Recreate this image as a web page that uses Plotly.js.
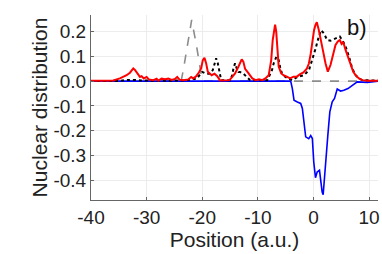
<!DOCTYPE html>
<html><head><meta charset="utf-8">
<script src="https://cdn.plot.ly/plotly-3.0.1.min.js"></script>
<style>html,body{margin:0;padding:0;background:#fff}#chart{width:382px;height:254px}</style>
</head><body><div id="chart"></div>
<script>
// Red series
const redX = [-40,-36,-34.8,-34.2,-33.6,-33,-32.4,-32.1,-31.8,-31.2,-30.9,-30.5,-30,-29.6,-28.8,-28.2,-27.9,-27.3,-26.7,-26.1,-25.5,-24.9,-24.5,-24.1,-23.4,-22.5,-22,-21.6,-21.1,-20.7,-20.2,-19.9,-19.6,-19.3,-19,-18.7,-18.3,-17.8,-17.3,-16.8,-15.9,-15.1,-14.6,-14.1,-13.5,-12.9,-12.6,-12.3,-11.9,-11.5,-11.0,-10.4,-9.8,-9.2,-8.65,-8.05,-7.6,-7.33,-6.9,-6.7,-6.5,-6.25,-5.8,-5.4,-4.8,-4.2,-3.6,-3.0,-2.4,-1.8,-1.2,-0.84,-0.5,-0.2,0.1,0.36,0.6,0.96,1.26,1.68,2.16,2.58,3.06,3.54,3.96,4.38,4.74,5.05,5.35,5.77,6.19,6.67,7.15,7.57,8.17,8.77,9.7,11.6];
const redY = [0.002,0.003,0.011,0.017,0.024,0.034,0.051,0.045,0.034,0.017,0.02,0.011,0.017,0.007,0.004,0.01,0.002,0.01,0.008,0.01,0.005,0.009,0.017,0.006,0.004,0.007,0.017,0.011,0.02,0.031,0.051,0.085,0.094,0.072,0.038,0.031,0.024,0.03,0.02,0.003,0.002,0.004,0.017,0.031,0.058,0.088,0.078,0.05,0.038,0.024,0.011,0.004,0.007,0.004,0.011,0.024,0.085,0.166,0.228,0.2,0.126,0.058,0.031,0.024,0.018,0.011,0.018,0.018,0.028,0.035,0.05,0.07,0.11,0.166,0.206,0.227,0.238,0.206,0.166,0.126,0.072,0.038,0.065,0.105,0.146,0.16,0.166,0.15,0.158,0.126,0.1,0.065,0.038,0.024,0.011,0.004,0.002,0.002];
// Black dotted series
const blackX = [-40,-35,-34,-33,-32,-31,-30,-28,-25,-23,-21,-20.4,-20,-19.3,-18.6,-18.1,-17.8,-17.5,-17.2,-16.9,-16.6,-15,-14.6,-14.4,-14.1,-13.8,-13.5,-13.2,-12.6,-12,-11.4,-10,-8.3,-7.45,-7.15,-6.67,-6.25,-5.95,-5.65,-5.05,-4.45,-3.85,-2.9,-1.7,-0.8,-0.2,0.36,0.96,1.38,1.86,2.46,3.06,3.96,4.74,5.17,5.77,6.37,6.97,7.57,8.17,8.77,10,11.6];
const blackY = [0,0,0.004,0.006,0.005,0.003,0.002,0.001,0.002,0.003,0.01,0.028,0.037,0.03,0.03,0.045,0.072,0.092,0.072,0.031,0.004,0.003,0.024,0.051,0.072,0.051,0.037,0.037,0.03,0.017,0.004,0.003,0.004,0.045,0.072,0.098,0.085,0.051,0.031,0.017,0.011,0.004,0.017,0.024,0.045,0.085,0.13,0.18,0.206,0.193,0.166,0.163,0.173,0.18,0.166,0.14,0.1,0.051,0.024,0.011,0.004,0.002,0.002];
// Gray dashed series
const grayX = [-40,-23.8,-23.4,-22.75,-21.9,-21.0,-20.4,-20.0,11.6];
const grayY = [0,0,0.045,0.139,0.247,0.139,0.058,0,0];
// Blue series
const blueX = [-40,-4.1,-3.8,-3.5,-2.9,-2.3,-2.0,-1.7,-1.4,-0.85,-0.5,-0.2,0.05,0.36,0.66,1.08,1.26,1.56,1.74,1.98,2.28,2.58,2.94,3.37,3.78,4.27,4.86,5.46,6.2,6.67,7.26,7.87,9.67,11.6];
const blueY = [0,0,-0.03,-0.077,-0.084,-0.09,-0.11,-0.165,-0.225,-0.232,-0.22,-0.232,-0.327,-0.39,-0.367,-0.36,-0.394,-0.448,-0.459,-0.38,-0.306,-0.219,-0.124,-0.084,-0.07,-0.032,-0.04,-0.037,-0.03,-0.023,-0.014,-0.003,-0.005,0];
// Tick labels
const xTickVals = [-40,-30,-20,-10,0,10];
const xTickText = ["-40","-30","-20","-10","0","10"];
const yTickVals = [0.2,0.1,0.0,-0.1,-0.2,-0.3,-0.4];
const yTickText = ["0.2","0.1","0.0","-0.1","-0.2","-0.3","-0.4"];

const fam = "Liberation Sans, Arial, sans-serif";
const tickFont = {family: fam, size: 19, color: "#222"};
const titleFont = {family: fam, size: 21, color: "#222"};
const traces = [
  {x: grayX, y: grayY, mode: "lines", line: {color: "#8c8c8c", width: 1.6, dash: "dash"}},
  {x: blueX, y: blueY, mode: "lines", line: {color: "#0000ff", width: 1.6}},
  {x: blackX, y: blackY, mode: "lines", line: {color: "#000", width: 2, dash: "dot"}},
  {x: redX, y: redY, mode: "lines", line: {color: "#ff0000", width: 2}}
];
const axisCommon = {showline: true, linecolor: "#666", linewidth: 1, mirror: false, ticks: "inside", ticklen: 3, tickcolor: "#666",
  showgrid: true, gridcolor: "#ececec", gridwidth: 1, zeroline: false, tickfont: tickFont};
const layout = {
  width: 382, height: 254, showlegend: false,
  margin: {l: 91, r: 4, t: 15, b: 54},
  paper_bgcolor: "#fff", plot_bgcolor: "#fff",
  font: tickFont,
  xaxis: Object.assign({}, axisCommon, {range: [-40, 11.6], tickvals: xTickVals, ticktext: xTickText,
     title: {text: "Position (a.u.)", font: titleFont, standoff: 0}}),
  yaxis: Object.assign({}, axisCommon, {range: [-0.48, 0.267], tickvals: yTickVals, ticktext: yTickText,
     title: {text: "Nuclear distribution", font: titleFont, standoff: 0}}),
  annotations: [{text: "b)", xref: "paper", yref: "paper", x: 0.927, y: 0.935, xanchor: "center", yanchor: "middle", showarrow: false,
     font: {family: fam, size: 22, color: "#111"}}]
};
Plotly.newPlot("chart", traces, layout, {staticPlot: true, displayModeBar: false});
</script></body></html>
